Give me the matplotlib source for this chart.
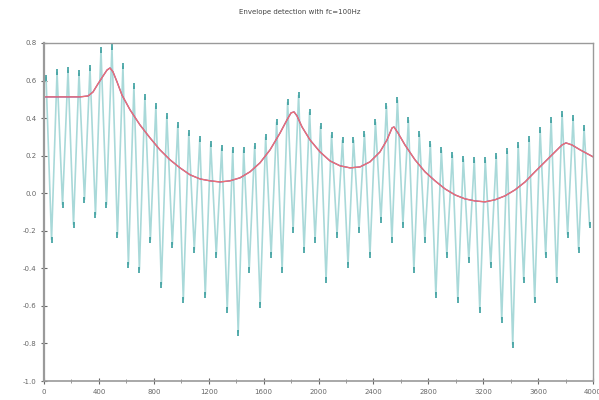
import numpy as np
import matplotlib
matplotlib.use("Agg")
import matplotlib.pyplot as plt

title = "Envelope detection with fc=100Hz"

# signal extremes: one maximum and the following minimum per cycle
sig_max = [0.614, 0.646, 0.656, 0.640, 0.667, 0.763, 0.779, 0.678, 0.571, 0.513,
           0.465, 0.412, 0.364, 0.321, 0.289, 0.263, 0.241, 0.231, 0.231, 0.252,
           0.300, 0.380, 0.486, 0.523, 0.433, 0.358, 0.311, 0.284, 0.284, 0.316,
           0.380, 0.465, 0.497, 0.390, 0.316, 0.263, 0.231, 0.204, 0.183, 0.178,
           0.178, 0.199, 0.225, 0.257, 0.289, 0.337, 0.390, 0.422, 0.401, 0.348]
sig_min = [-0.248, -0.062, -0.168, -0.035, -0.115, -0.062, -0.221, -0.381, -0.408, -0.248,
           -0.487, -0.275, -0.567, -0.301, -0.541, -0.328, -0.620, -0.743, -0.408, -0.594,
           -0.328, -0.408, -0.195, -0.301, -0.248, -0.461, -0.221, -0.381, -0.195, -0.328,
           -0.142, -0.248, -0.168, -0.408, -0.248, -0.541, -0.328, -0.567, -0.354, -0.620,
           -0.381, -0.674, -0.807, -0.461, -0.567, -0.328, -0.461, -0.221, -0.301, -0.168]
cycle_start = 15
cycle_len = 80

env_x = [0, 117, 262, 321, 357, 393, 430, 459, 481, 503, 532, 568, 627, 699, 772, 845,
         918, 991, 1064, 1137, 1210, 1282, 1355, 1428, 1501, 1574, 1647, 1720, 1770,
         1800, 1822, 1843, 1880, 1938, 2011, 2084, 2157, 2230, 2302, 2375, 2448, 2499,
         2536, 2550, 2579, 2630, 2703, 2776, 2849, 2922, 2995, 3067, 3140, 3213, 3286,
         3359, 3432, 3505, 3577, 3650, 3723, 3774, 3803, 3847, 3906, 4000]
env_y = [0.513, 0.513, 0.513, 0.518, 0.539, 0.582, 0.624, 0.656, 0.667, 0.646, 0.593,
         0.523, 0.444, 0.364, 0.295, 0.231, 0.178, 0.135, 0.098, 0.076, 0.066, 0.060,
         0.066, 0.082, 0.114, 0.162, 0.231, 0.321, 0.390, 0.428, 0.433, 0.412, 0.353,
         0.284, 0.220, 0.172, 0.146, 0.135, 0.140, 0.167, 0.220, 0.284, 0.348, 0.353,
         0.321, 0.257, 0.178, 0.114, 0.066, 0.023, -0.009, -0.030, -0.041, -0.046,
         -0.035, -0.014, 0.018, 0.060, 0.114, 0.167, 0.220, 0.257, 0.268, 0.257, 0.231,
         0.194]

xticks = [0, 400, 800, 1200, 1600, 2000, 2400, 2800, 3200, 3600, 4000]
yticks = [0.8, 0.6, 0.4, 0.2, 0.0, -0.2, -0.4, -0.6, -0.8, -1.0]

# build the interleaved signal path
n = len(sig_max)
sx, sy = [], []
for k in range(n):
    sx.append(cycle_start + k * cycle_len)
    sy.append(sig_max[k])
    sx.append(cycle_start + k * cycle_len + cycle_len / 2)
    sy.append(sig_min[k])

fig = plt.figure(figsize=(5.99, 4.0), dpi=100)
ax = fig.add_axes([44 / 599, 1 - 381 / 400, (593 - 44) / 599, (381 - 43) / 400])

ax.plot(sx, sy, color="#a9d9d9", lw=1.2, solid_joinstyle="miter")
ax.plot(sx[0::2], sig_max, ls="none", marker="|", ms=4, mew=1.2, color="#3a9e9e")
ax.plot(sx[1::2], sig_min, ls="none", marker="|", ms=4, mew=1.2, color="#3a9e9e")
ax.plot(env_x, env_y, color="#5050e0", lw=0.9)
ax.plot(env_x, env_y, color="#f07070", lw=1.0)

ax.set_xlim(0, 4000)
ax.set_ylim(-1.0, 0.8)
ax.set_xticks(xticks)
ax.set_xticks(np.arange(200, 4000, 400), minor=True)
ax.set_yticks(yticks)
ax.set_xticklabels([str(v) for v in xticks])
ax.set_yticklabels([f"{v:.1f}" for v in yticks])
ax.tick_params(axis="both", labelsize=5, colors="#666666", direction="inout", length=4, width=0.8)
ax.tick_params(axis="x", which="minor", direction="inout", length=3, width=0.6, colors="#888888")
for s in ax.spines.values():
    s.set_color("#9a9a9a")
    s.set_linewidth(1.0)
ax.spines["left"].set_linewidth(1.6)
ax.spines["bottom"].set_linewidth(1.2)

fig.text(0.5, 0.97, title, ha="center", va="center", fontsize=5, color="#444444")

fig.savefig("out.png", dpi=100)
